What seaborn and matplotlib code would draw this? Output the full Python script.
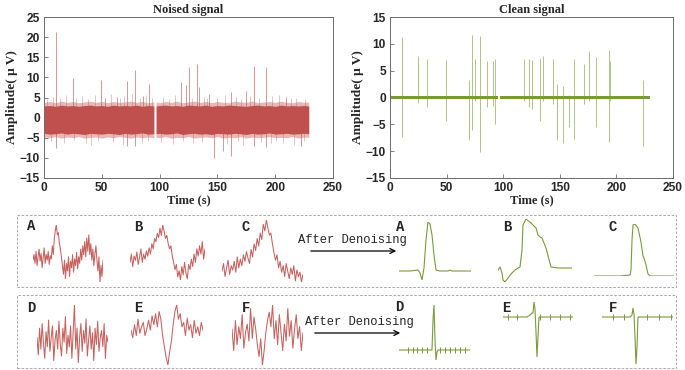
import numpy as np
import matplotlib
matplotlib.use("Agg")
import matplotlib.pyplot as plt
import seaborn as sns
from matplotlib.patches import Rectangle, FancyArrowPatch

# ---------------- data ----------------
x_ticks = [0, 50, 100, 150, 200, 250]
noised_yticks = [-15, -10, -5, 0, 5, 10, 15, 20, 25]
clean_yticks = [-15, -10, -5, 0, 5, 10, 15]

# noised signal: dense band envelope (two segments, gap near 96 s)
noise_t_a = [0, 5, 10, 15, 20, 25, 30, 35, 40, 45, 50, 55, 60, 65, 70, 75, 80, 85, 90, 95]
noise_core_hi_a = [2.9, 3.0, 2.8, 3.1, 2.9, 3.0, 2.8, 3.0, 3.1, 2.9, 3.0, 2.8, 3.1, 2.9, 3.0, 2.9, 3.1, 2.8, 3.0, 2.9]
noise_core_lo_a = [-3.9, -4.1, -4.0, -3.8, -4.1, -3.9, -4.0, -4.2, -3.9, -4.0, -4.1, -3.9, -4.0, -4.2, -3.9, -4.1, -4.0, -3.8, -4.1, -4.0]
noise_fr_hi_a = [3.8, 4.0, 3.7, 4.1, 3.8, 4.0, 3.7, 3.9, 4.1, 3.8, 4.0, 3.7, 4.0, 3.8, 3.9, 4.1, 3.8, 4.0, 3.7, 3.9]
noise_fr_lo_a = [-4.8, -5.0, -4.7, -5.1, -4.8, -5.0, -4.7, -5.1, -4.9, -4.8, -5.1, -4.8, -5.0, -4.7, -4.9, -5.1, -4.8, -5.0, -4.8, -5.0]
noise_t_b = [97, 100, 105, 110, 115, 120, 125, 130, 135, 140, 145, 150, 155, 160, 165, 170, 175, 180, 185, 190, 195, 200, 205, 210, 215, 220, 225, 229]
noise_core_hi_b = [2.9, 3.0, 3.1, 2.9, 3.0, 2.8, 3.1, 3.0, 2.9, 3.1, 2.8, 3.0, 2.9, 3.1, 3.0, 2.9, 2.8, 3.0, 3.1, 2.9, 3.0, 2.8, 3.1, 2.9, 3.0, 2.9, 3.0, 2.9]
noise_core_lo_b = [-4.0, -3.9, -4.1, -4.0, -3.8, -4.2, -4.0, -3.9, -4.1, -4.0, -4.2, -3.9, -4.0, -4.1, -3.9, -4.0, -4.2, -3.9, -4.1, -4.0, -3.8, -4.1, -4.0, -3.9, -4.1, -4.0, -3.9, -4.0]
noise_fr_hi_b = [3.9, 3.7, 4.0, 3.8, 4.1, 3.7, 3.9, 4.1, 3.8, 4.0, 3.7, 4.0, 3.8, 3.7, 4.1, 3.9, 3.8, 4.1, 3.7, 3.9, 4.0, 3.8, 4.1, 3.8, 3.7, 4.0, 3.8, 3.9]
noise_fr_lo_b = [-4.9, -5.0, -4.7, -5.1, -4.9, -5.0, -4.7, -5.1, -4.9, -4.8, -5.0, -4.7, -5.1, -4.9, -5.0, -4.7, -5.1, -4.8, -5.0, -4.9, -4.7, -5.0, -4.9, -5.0, -4.7, -5.1, -4.8, -4.9]

# noised signal: small excursions just outside the band
noise_minor_t = [3, 8, 14, 19, 28, 33, 38, 44, 58, 66, 69, 76, 83, 88, 93, 103, 108, 113, 128, 138, 141, 150, 157, 166, 170, 178, 186, 197, 203, 214, 218, 226]
noise_minor_hi = [4.6, 5.2, 4.8, 5.5, 4.9, 5.3, 4.7, 5.6, 5.9, 4.9, 5.4, 5.8, 5.0, 5.7, 4.8, 5.1, 4.7, 5.5, 4.9, 5.2, 5.0, 4.8, 5.6, 5.1, 4.7, 5.3, 4.9, 5.4, 5.6, 4.8, 5.0, 4.7]
noise_minor_dip_t = [6, 17, 26, 36, 41, 47, 60, 68, 85, 90, 101, 112, 120, 129, 137, 158, 168, 172, 188, 196, 201, 207, 216, 225]
noise_minor_lo = [-5.8, -6.2, -5.6, -6.4, -6.9, -5.9, -6.1, -6.8, -6.3, -5.7, -6.0, -6.5, -5.8, -6.2, -6.0, -6.6, -5.9, -6.7, -6.1, -6.4, -5.8, -6.3, -6.9, -5.9]

# noised signal: isolated spikes
noise_spike_t = [10.6, 24.7, 49.5, 53, 63, 72.2, 79.1, 85.4, 91.2, 118.5, 122.5, 125, 132, 134, 143, 162, 174.6, 181.5, 192, 209.7]
noise_spike_hi = [21.3, 9.8, 9.4, 5.0, 5.1, 9.0, 11.8, 5.4, 8.3, 8.8, 8.0, 12.6, 13.2, 7.5, 5.8, 6.4, 6.6, 12.8, 12.7, 5.2]
noise_dip_t = [10.6, 72.2, 79.1, 147, 154.5, 162, 181.5, 192, 222.7]
noise_dip_lo = [-7.6, -7.0, -7.1, -10.1, -8.3, -9.5, -7.0, -7.3, -7.0]

# clean signal
clean_seg_start = [0, 97.5]
clean_seg_end = [95.5, 229.5]
clean_band_half = 0.36
clean_spike_t = [10.7, 24.6, 32.4, 49.2, 69.4, 72.3, 75.5, 79.3, 85.4, 91.4, 92.6, 118, 123, 125.3, 132.5, 134.8, 144, 147.6, 152.5, 158.3, 162.9, 171.3, 175.6, 182.3, 193.3, 194.7, 223.4]
clean_spike_hi = [11.3, 7.7, 7.2, 6.9, 3.2, 11.7, 7.1, 11.4, 6.8, 6.8, 7.1, 7.1, 7.2, 6.9, 7.4, 7.7, 7.1, 2.6, 2.1, 0.5, 7.1, 6.3, 8.7, 7.5, 8.9, 6.8, 3.2]
clean_spike_lo = [-7.4, -1.0, -1.7, -4.4, -7.9, -6.0, -0.6, -10.2, -1.8, -1.5, -4.9, -0.6, -1.7, -2.1, -4.4, -0.6, -1.3, -7.9, -8.4, -5.5, -7.7, -1.3, -0.6, -5.5, -8.2, -0.6, -9.1]

# noisy waveform snippets (relative amplitude)
snip_A = [25, 30, 22, 33, 20, 28, 35, 24, 31, 18, 27, 36, 22, 30, 25, 33, 21, 29, 26, 38, 30, 45, 52, 57, 48, 50, 40, 35, 28, 20,
          12, 25, 8, 22, 15, 28, 10, 24, 18, 30, 14, 26, 20, 32, 17, 28, 22, 35, 25, 38, 30, 42, 28, 45, 33, 48, 30, 40, 25, 35,
          20, 30, 38, 25, 15, 28, 5, 20, 10, 25]
snip_B = [22, 30, 18, 28, 24, 32, 20, 27, 35, 22, 30, 25, 33, 28, 36, 30, 40, 35, 45, 42, 50, 46, 55, 48, 58, 52, 45, 48, 40, 35,
          38, 28, 22, 15, 20, 8, 14, 5, 18, 10, 22, 12, 6, 20, 15, 25, 18, 30, 22, 35, 28, 38, 30, 42, 25, 35]
snip_C = [15, 22, 10, 18, 25, 12, 20, 16, 24, 14, 28, 18, 26, 20, 30, 24, 33, 27, 22, 35, 28, 40, 34, 45, 38, 50, 44, 58, 52, 62,
          55, 48, 50, 40, 32, 25, 30, 18, 24, 14, 20, 10, 22, 15, 8, 18, 12, 20, 6, 16, 10, 14, 5, 12]
snip_D = [30, 15, 38, 20, 42, 25, 12, 35, 22, 45, 18, 30, 40, 10, 28, 36, 20, 44, 24, 14, 38, 26, 48, 16, 32, 22, 40, 12, 34, 58,
          20, 38, 8, 30, 42, 18, 36, 25, 46, 14, 28, 40, 20, 34, 10, 38, 24, 44, 18, 30, 36, 22, 42, 12, 32, 26]
snip_E = [35, 28, 40, 30, 45, 32, 38, 42, 30, 36, 44, 35, 48, 40, 50, 38, 52, 45, 30, 20, 10, 3, 15, 25, 40, 52, 58, 45, 50, 38,
          42, 30, 46, 35, 40, 28, 44, 32, 38, 30, 42, 35]
snip_F = [38, 20, 45, 25, 40, 30, 50, 22, 35, 42, 28, 55, 30, 48, 38, 25, 15, 30, 8, 20, 35, 45, 52, 40, 58, 30, 45, 25, 50, 35,
          20, 42, 28, 55, 32, 45, 22, 38, 50, 30, 40, 20, 35]

# denoised waveform snippets (relative time, relative amplitude)
clean_A_x = [0, 11, 19, 21, 23, 25, 27, 29, 31, 33, 35, 37, 41, 49, 51, 53, 61, 72]
clean_A_y = [0, 0, 1, -2, -9, 3, 31, 49, 47, 36, 16, 1, 0, 0, 1, 0, 0, 0]
clean_B_x = [0, 2, 4, 5, 7, 10, 13, 17, 20, 22, 24, 25, 28, 33, 38, 40, 42, 44, 48, 53, 60, 74]
clean_B_y = [0, 3, -3, -10, -12, -8, -4, 0, 2, 3, 20, 45, 51, 47, 42, 35, 33, 32, 22, 3, 2, 2]
clean_C_x = [0, 26, 36, 37, 38, 39, 41, 44, 47, 49, 50, 52, 54, 56, 66, 80]
clean_C_y = [0, 0, 1, 6, 36, 51, 52, 48, 34, 20, 18, 11, 2, 0, 0, 0]
clean_D_x = [0, 33, 34, 35, 36, 37, 38, 39, 71]
clean_D_y = [0, 0, 30, 45, 10, -10, -2, 0, 0]
clean_D_ticks = [9, 14, 18, 23, 28, 41, 46, 51, 56, 61, 66]
clean_E_x = [0, 24, 27, 29, 30, 31, 32, 33, 34, 36, 70]
clean_E_y = [0, 0, 2, 4, 4, 15, 8, -15, -40, 0, 0]
clean_E_ticks = [5, 14, 37, 47, 57, 67]
clean_F_x = [0, 28, 30, 31, 32, 33, 34, 35, 36, 38, 71]
clean_F_y = [0, 0, 2, 9, 3, -20, -47, -30, 0, 0, 0]
clean_F_ticks = [11, 22, 45, 57, 69]

# ---------------- style ----------------
RED = "#C0504D"
GREEN = "#7A9A3A"
SPINE = "#6b6b6b"
W, H = 685, 370

sns.set_style("white")
plt.rcParams["font.family"] = ["Liberation Sans", "DejaVu Sans"]

fig = plt.figure(figsize=(W / 100, H / 100), dpi=100)


def rect(x0, y0, x1, y1):
    return [x0 / W, 1 - y1 / H, (x1 - x0) / W, (y1 - y0) / H]


def style_main(ax, yticks, title):
    ax.set_xlim(0, 250)
    ax.set_ylim(yticks[0], yticks[-1])
    ax.set_xticks(x_ticks)
    ax.set_yticks(yticks)
    ax.tick_params(direction="in", length=3, width=0.6, color=SPINE, pad=3,
                   labelsize=8.6, top=False, right=False, bottom=True, left=True)
    for lab in ax.get_xticklabels() + ax.get_yticklabels():
        lab.set_fontweight("bold")
    for s in ax.spines.values():
        s.set_color(SPINE)
        s.set_linewidth(0.7)
        s.set_visible(True)
    ax.set_title(title, fontsize=9, fontweight="bold", family="Liberation Serif", pad=3)
    ax.set_xlabel("Time (s)", fontsize=9, fontweight="bold", family="Liberation Serif", labelpad=0)
    ax.set_ylabel("Amplitude( \u03bc V)", fontsize=9.6, fontweight="bold", family="Liberation Serif", labelpad=1)


# ---- top-left: noised signal ----
axL = fig.add_axes(rect(44, 17, 333, 178))
axL.vlines(noise_minor_t, 0, noise_minor_hi, color=RED, alpha=0.4, lw=0.6)
axL.vlines(noise_minor_dip_t, noise_minor_lo, 0, color=RED, alpha=0.4, lw=0.6)
for t, hi, lo, fhi, flo in [(noise_t_a, noise_core_hi_a, noise_core_lo_a, noise_fr_hi_a, noise_fr_lo_a),
                            (noise_t_b, noise_core_hi_b, noise_core_lo_b, noise_fr_hi_b, noise_fr_lo_b)]:
    axL.fill_between(t, flo, fhi, color=RED, alpha=0.4, lw=0)
    axL.fill_between(t, lo, hi, color=RED, alpha=1.0, lw=0)
axL.vlines(noise_spike_t, 0, noise_spike_hi, color=RED, alpha=0.6, lw=0.7)
axL.vlines(noise_dip_t, noise_dip_lo, 0, color=RED, alpha=0.6, lw=0.7)
style_main(axL, noised_yticks, "Noised signal")

# ---- top-right: clean signal ----
axR = fig.add_axes(rect(390, 17, 673, 178))
axR.vlines(clean_spike_t, clean_spike_lo, clean_spike_hi, color=GREEN, alpha=0.6, lw=0.7)
for s0, s1 in zip(clean_seg_start, clean_seg_end):
    axR.fill_between([s0, s1], [-clean_band_half] * 2, [clean_band_half] * 2, color=GREEN, lw=0)
style_main(axR, clean_yticks, "Clean signal")

# ---- dashed boxes ----
for y0, y1 in [(215, 287), (295, 368)]:
    fig.add_artist(Rectangle((17 / W, 1 - y1 / H), (676 - 17) / W, (y1 - y0) / H, fill=False,
                             ls=(0, (3, 2)), lw=0.6, ec="#9a9a9a", transform=fig.transFigure))

# ---- noisy snippets ----
noisy = [(snip_A, (33, 225, 103, 282)), (snip_B, (130, 225, 205, 280)), (snip_C, (222, 220, 303, 282)),
         (snip_D, (37, 305, 108, 363)), (snip_E, (131, 305, 203, 365)), (snip_F, (232, 305, 303, 365))]
for vals, box in noisy:
    ax = fig.add_axes(rect(*box))
    ax.axis("off")
    sns.lineplot(x=np.arange(len(vals)), y=vals, ax=ax, color=RED, lw=0.75, alpha=0.9,
                 estimator=None, sort=False)
    ax.set_xlim(0, len(vals) - 1)
    ax.set_ylim(min(vals), max(vals))

# ---- clean snippets ----
clean = [(clean_A_x, clean_A_y, None, (399, 222, 471, 280)),
         (clean_B_x, clean_B_y, None, (498, 219, 572, 282)),
         (clean_C_x, clean_C_y, None, (594, 224, 674, 276)),
         (clean_D_x, clean_D_y, clean_D_ticks, (399, 305, 470, 360)),
         (clean_E_x, clean_E_y, clean_E_ticks, (503, 302, 573, 357)),
         (clean_F_x, clean_F_y, clean_F_ticks, (602, 308, 673, 364))]
for xs, ys, ticks, box in clean:
    ax = fig.add_axes(rect(*box))
    ax.axis("off")
    sns.lineplot(x=xs, y=ys, ax=ax, color=GREEN, lw=0.8, estimator=None, sort=False)
    if ticks:
        ax.plot(ticks, [0] * len(ticks), ls="", marker="|", ms=4, mew=0.7, color=GREEN)
    ax.set_xlim(min(xs), max(xs))
    ax.set_ylim(min(ys), max(ys))
    ax.margins(0)

# ---- labels & arrows ----
lab_font = dict(family="Liberation Mono", fontweight="bold", fontsize=10, ha="center", va="center")
for txt, x, y in [("A", 31, 226), ("B", 138, 227), ("C", 246, 227), ("A", 400, 227), ("B", 507, 227), ("C", 613, 227),
                  ("D", 31, 308), ("E", 138, 308), ("F", 246, 308), ("D", 399, 307), ("E", 506, 308), ("F", 613, 308)]:
    fig.text(x / W, 1 - y / H, txt, **lab_font)

for x0, y in [(298, 240), (305, 322)]:
    fig.text(x0 / W, 1 - y / H, "After Denoising", family="Liberation Mono", fontsize=8.7, ha="left", va="center")
for x0, x1, y in [(308, 399, 251), (312, 403, 333)]:
    fig.add_artist(FancyArrowPatch((x0 / W, 1 - y / H), (x1 / W, 1 - y / H), arrowstyle="->",
                                   mutation_scale=9, lw=0.9, color="black", transform=fig.transFigure))

fig.savefig("out.png", dpi=100)
